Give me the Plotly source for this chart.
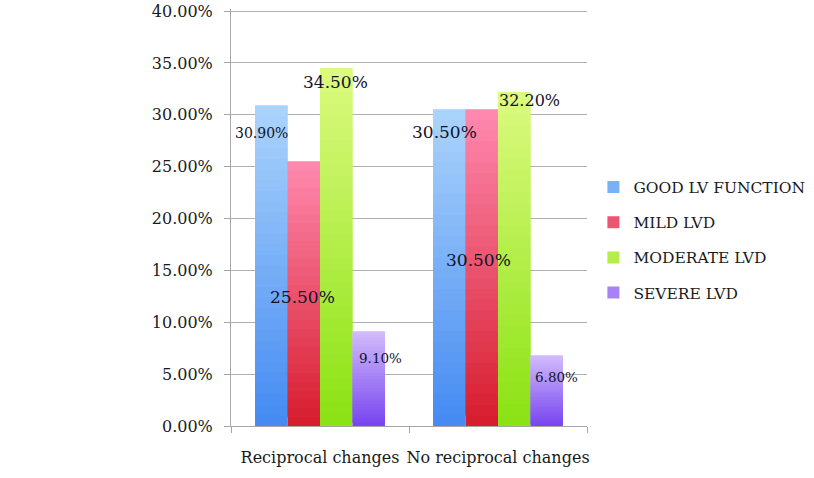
import plotly.graph_objects as go

categories = ["Reciprocal changes", "No reciprocal changes"]
series_names = ["GOOD LV FUNCTION", "MILD LVD", "MODERATE LVD", "SEVERE LVD"]
good_lv = [30.9, 30.5]
mild_lvd = [25.5, 30.5]
moderate_lvd = [34.5, 32.2]
severe_lvd = [9.1, 6.8]
y_ticks = [0, 5, 10, 15, 20, 25, 30, 35, 40]

series_values = [good_lv, mild_lvd, moderate_lvd, severe_lvd]

# style: gradient colours (top, bottom) per series
grad = [
    ((172, 212, 251), (68, 138, 242)),
    ((255, 138, 176), (214, 28, 44)),
    ((220, 250, 128), (138, 226, 18)),
    ((210, 188, 252), (118, 68, 240)),
]
# style: label pixel offsets (dx from bar centre, dy below bar top) and font sizes
label_dx = [[-10, -5], [-1, -3], [-1, 15], [12, 10]]
label_dy = [[28, 22], [136, 150], [14, 9], [26, 22]]
label_size = [[14, 17], [17, 17], [17, 16], [13.5, 13.5]]

N = 30
FONT = "DejaVu Serif"
TXT = "#1a1a1a"

def mix(c1, c2, t):
    return "rgb(%d,%d,%d)" % tuple(round(a + (b - a) * t) for a, b in zip(c1, c2))

fig = go.Figure()
for si, (name, vals) in enumerate(zip(series_names, series_values)):
    top, bot = grad[si]
    for k in range(N):
        t = (k + 0.5) / N  # 0 bottom -> 1 top
        bases = [v * k / N for v in vals]
        heights = [min(v / N * 2.0, v - b) for v, b in zip(vals, bases)]
        fig.add_trace(go.Bar(
            x=categories,
            y=heights,
            base=bases,
            offsetgroup=str(si),
            legendgroup=name,
            name=name,
            showlegend=(k == N // 2),
            marker=dict(color=mix(bot, top, t), line=dict(width=0)),
            hoverinfo="skip",
        ))

# data labels
nser = len(series_names)
group_w = 1 - 0.27
bar_w = group_w / nser
for si, vals in enumerate(series_values):
    for ci, v in enumerate(vals):
        xoff = -group_w / 2 + bar_w * (si + 0.5)
        fig.add_annotation(
            x=ci + xoff, y=v, xref="x", yref="y",
            text="%.2f%%" % v, showarrow=False,
            xanchor="center", yanchor="middle",
            xshift=label_dx[si][ci], yshift=-label_dy[si][ci],
            font=dict(family=FONT, size=label_size[si][ci], color="#10142a"),
        )

fig.update_layout(
    width=814, height=478,
    margin=dict(l=231, r=227, t=9, b=52, autoexpand=False),
    paper_bgcolor="white", plot_bgcolor="white",
    barmode="group", bargap=0.27, bargroupgap=0,
    font=dict(family=FONT, color=TXT),
    legend=dict(
        x=1.018, y=0.446, xanchor="left", yanchor="middle",
        font=dict(family=FONT, size=15.5, color=TXT),
        tracegroupgap=12, itemwidth=30,
        bgcolor="rgba(0,0,0,0)",
    ),
    showlegend=True,
)
fig.update_xaxes(
    type="category", range=[-0.5, 1.5],
    showline=True, linecolor="#a6a6a6", linewidth=1,
    ticks="outside", tickson="boundaries", ticklen=6, tickcolor="#a6a6a6",
    tickfont=dict(family=FONT, size=16, color=TXT),
    tickangle=0, automargin=False,
    ticklabelstandoff=17,
    showgrid=False,
)
fig.update_yaxes(
    range=[0, 40.2], tickvals=y_ticks,
    ticktext=["%.2f%%" % v for v in y_ticks],
    showline=True, linecolor="#a6a6a6", linewidth=1,
    ticks="outside", ticklen=6, tickcolor="#a6a6a6",
    showgrid=True, gridcolor="#b0b0b0", gridwidth=1,
    zeroline=False, automargin=False,
    ticklabeloverflow="allow",
    tickfont=dict(family=FONT, size=16, color=TXT),
    ticklabelstandoff=8,
)

fig.write_html(
    "out.html",
    config={"displayModeBar": False},
    post_script="document.body.style.margin='0';document.body.style.overflow='hidden';",
)
